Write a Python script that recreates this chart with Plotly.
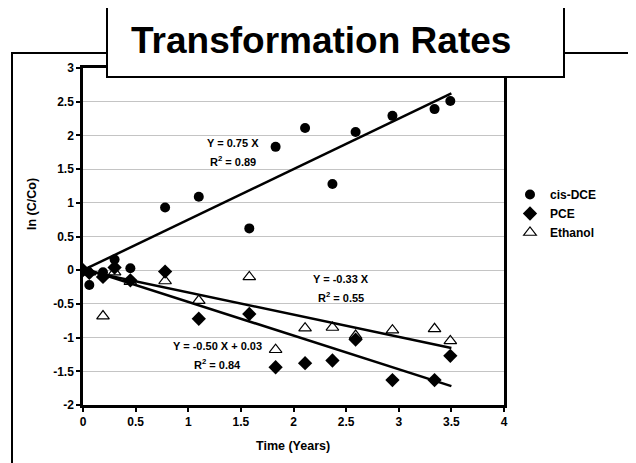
import plotly.graph_objects as go
import numpy as np

# ---- data ----
time_years = [0, 0.06, 0.19, 0.30, 0.45, 0.78, 1.10, 1.58, 1.83, 2.11, 2.37, 2.59, 2.94, 3.34, 3.49]
cis_dce = [0, -0.22, -0.03, 0.16, 0.03, 0.93, 1.09, 0.62, 1.83, 2.11, 1.28, 2.05, 2.29, 2.39, 2.51]
pce = [0, -0.04, -0.10, 0.04, -0.15, -0.02, -0.72, -0.65, -1.44, -1.38, -1.34, -1.03, -1.63, -1.63, -1.27]
ethanol = [0, -0.03, -0.68, -0.03, -0.17, -0.16, -0.45, -0.10, -1.18, -0.86, -0.85, -0.97, -0.89, -0.87, -1.05]

series_names = ["cis-DCE", "PCE", "Ethanol"]
trend_slopes = [0.75, -0.50, -0.33]
trend_intercepts = [0.0, 0.03, 0.0]
trend_range = [0, 3.5]
eq_labels = ["Y = 0.75 X", "Y = -0.50 X + 0.03", "Y = -0.33 X"]
r2_labels = ["R<sup>2</sup> = 0.89", "R<sup>2</sup> = 0.84", "R<sup>2</sup> = 0.55"]

x_ticks = [0, 0.5, 1, 1.5, 2, 2.5, 3, 3.5, 4]
y_ticks = [-2, -1.5, -1, -0.5, 0, 0.5, 1, 1.5, 2, 2.5, 3]

FONT = "Arial, 'Liberation Sans', sans-serif"

# the page body has an 8px margin, so the figure is drawn 8px in from the corner
OFF = 8
W, H = 636 - OFF, 463 - OFF
# plot-area edges in window pixels
L, R, T, B = 83, 504, 68, 405


def xp(px):
    return (px - L) / (R - L)


def yp(py):
    return (B - py) / (B - T)


def bold(s):
    return f"<b>{s}</b>"


fig = go.Figure()

markers = [
    dict(symbol="circle", size=10, color="black"),
    dict(symbol="diamond", size=11, color="black"),
    dict(symbol="triangle-up-open", size=11, color="black", line=dict(color="black", width=1.2)),
]
for name, ys, mk in zip(series_names, [cis_dce, pce, ethanol], markers):
    fig.add_trace(go.Scatter(x=time_years, y=ys, mode="markers", name=bold(name), marker=mk))

for s, b in zip(trend_slopes, trend_intercepts):
    tx = np.array(trend_range)
    fig.add_trace(go.Scatter(x=tx, y=s * tx + b, mode="lines", showlegend=False,
                             line=dict(color="black", width=2.5), hoverinfo="skip"))

txt_font = dict(family=FONT, size=11, color="black")
# equation annotations (window pixel positions converted to paper)
eq_pos = [(233, 143, 161), (217, 346, 364), (341, 279, 297)]
annotations = []
for (cx, y1, y2), eq, r2 in zip(eq_pos, eq_labels, r2_labels):
    annotations.append(dict(x=xp(cx), y=yp(y1), xref="paper", yref="paper", text=bold(eq),
                            xanchor="center", yanchor="middle", showarrow=False, font=txt_font))
    annotations.append(dict(x=xp(cx), y=yp(y2), xref="paper", yref="paper", text=bold(r2),
                            xanchor="center", yanchor="middle", showarrow=False, font=txt_font))

# title text
annotations.append(dict(x=xp(129), y=yp(40), xref="paper", yref="paper", xanchor="left", yanchor="middle",
                        text=bold("Transformation Rates"), showarrow=False,
                        font=dict(family=FONT, size=37, color="black")))
# axis titles
annotations.append(dict(x=xp(32), y=yp(204), xref="paper", yref="paper", xanchor="center", yanchor="middle",
                        text=bold("ln (C/Co)"), textangle=-90, showarrow=False,
                        font=dict(family=FONT, size=12.5, color="black")))
annotations.append(dict(x=xp(293), y=yp(446), xref="paper", yref="paper", xanchor="center", yanchor="middle",
                        text=bold("Time (Years)"), showarrow=False,
                        font=dict(family=FONT, size=12.5, color="black")))

shapes = [
    # outer frame
    dict(type="rect", xref="paper", yref="paper", x0=xp(12), x1=xp(632), y0=yp(480), y1=yp(53),
         line=dict(color="black", width=2), fillcolor="rgba(0,0,0,0)", layer="below"),
    # title box
    dict(type="rect", xref="paper", yref="paper", x0=xp(107), x1=xp(564), y0=yp(77), y1=yp(5),
         line=dict(color="black", width=2), fillcolor="white", layer="above"),
]

axis_font = dict(family=FONT, size=12, color="black")
fig.update_layout(
    width=W, height=H,
    margin=dict(l=L - OFF, r=W - (R - OFF), t=T - OFF, b=H - (B - OFF)),
    paper_bgcolor="white", plot_bgcolor="white",
    font=dict(family=FONT, color="black"),
    showlegend=True,
    legend=dict(x=xp(510), y=yp(180), xanchor="left", yanchor="top", itemwidth=30,
                font=dict(family=FONT, size=12, color="black"),
                bgcolor="rgba(0,0,0,0)", tracegroupgap=0),
    annotations=annotations,
    shapes=shapes,
    xaxis=dict(range=[0, 4], tickvals=x_ticks, ticktext=[bold(f"{v:g}") for v in x_ticks],
               showgrid=False, zeroline=False, showline=True, linecolor="black", linewidth=2.5,
               mirror=True, ticks="outside", ticklen=4, tickwidth=1.5, tickcolor="black",
               tickfont=axis_font),
    yaxis=dict(range=[-2, 3], tickvals=y_ticks, ticktext=[bold(f"{v:g}") for v in y_ticks],
               showgrid=True, gridcolor="#c4c4c4", gridwidth=1, zeroline=False,
               showline=True, linecolor="black", linewidth=2.5, mirror=True,
               ticks="outside", ticklen=4, tickwidth=1.5, tickcolor="black",
               tickfont=axis_font),
)

fig.write_html("out.html")
